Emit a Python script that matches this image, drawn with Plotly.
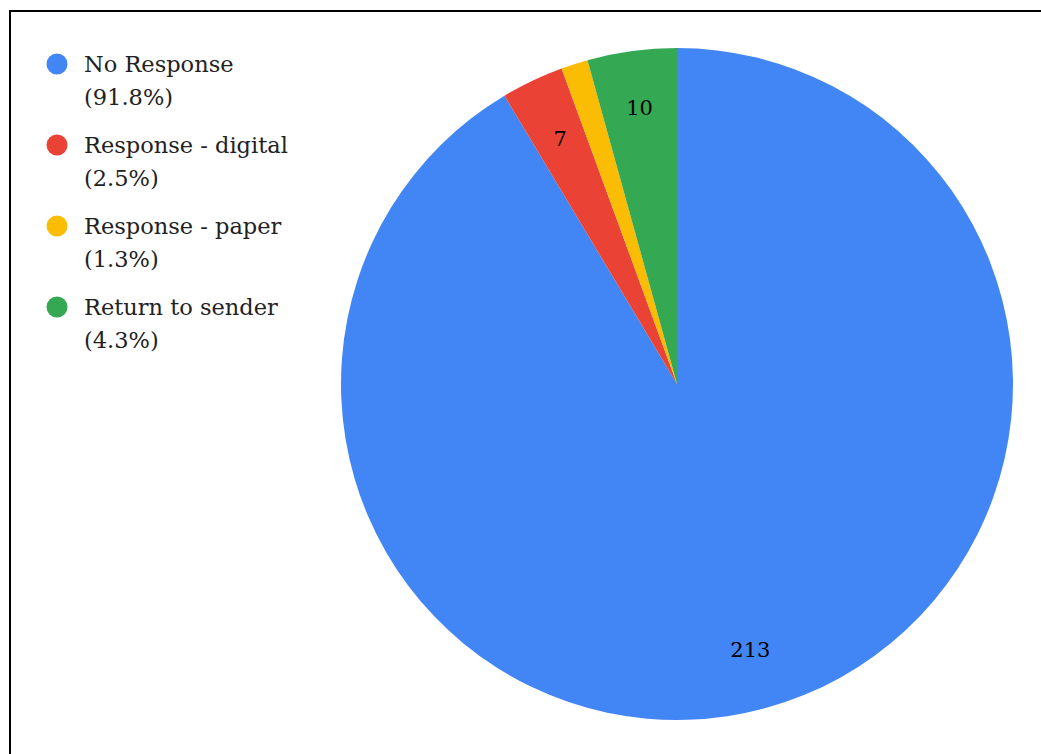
import plotly.graph_objects as go

W, H = 1041, 754

categories = ["No Response", "Response - digital", "Response - paper", "Return to sender"]
values = [213, 7, 3, 10]
slice_labels = ["213", "7", "", "10"]
legend_pct = ["(91.8%)", "(2.5%)", "(1.3%)", "(4.3%)"]
colors = ["#4285F4", "#EA4335", "#FBBC04", "#34A853"]

FONT = "DejaVu Serif"

def px(x):
    return x / W

def py(y):
    return 1 - y / H

cx, cy, r = 677, 384, 336

def dom(rad):
    return dict(x=[px(cx - rad), px(cx + rad)], y=[py(cy + rad), py(cy - rad)])

common = dict(labels=categories, values=values, sort=False, direction="clockwise",
              rotation=0, showlegend=False)

fig = go.Figure()
# full pie (colour fill)
fig.add_trace(go.Pie(
    **common, domain=dom(r),
    textinfo="none",
    marker=dict(colors=colors, line=dict(color="white", width=0)),
    hoverinfo="label+value+percent",
))
# transparent ring overlays that carry the value labels (one per label radius)
clear = ["rgba(0,0,0,0)"] * len(categories)
label_rings = [(r, 0.64, 0), (297, 0.6, 1), (316, 0.6, 3)]
for rad, hole, idx in label_rings:
    txt = [slice_labels[k] if k == idx else "" for k in range(len(categories))]
    fig.add_trace(go.Pie(
        **common, domain=dom(rad),
        hole=hole,
        text=txt,
        textinfo="text",
        textposition="inside",
        insidetextorientation="horizontal",
        marker=dict(colors=clear, line=dict(width=0)),
        textfont=dict(family=FONT, size=21, color="#000000"),
        hoverinfo="skip",
    ))

shapes = [
    dict(type="line", xref="paper", yref="paper", x0=px(10), x1=px(10), y0=py(10), y1=py(H),
         line=dict(color="black", width=2)),
    dict(type="line", xref="paper", yref="paper", x0=px(9), x1=px(W), y0=py(11), y1=py(11),
         line=dict(color="black", width=2)),
]
annotations = []
top0, step, lh = 64, 81, 33
mr = 10.5
for i, (name, pct, col) in enumerate(zip(categories, legend_pct, colors)):
    yc = top0 + i * step
    shapes.append(dict(type="circle", xref="paper", yref="paper",
                       x0=px(57 - mr), x1=px(57 + mr), y0=py(yc + mr), y1=py(yc - mr),
                       fillcolor=col, line=dict(width=0)))
    for j, t in enumerate([name, pct]):
        annotations.append(dict(text=t, xref="paper", yref="paper", x=px(82), y=py(yc + j * lh),
                                xanchor="left", yanchor="middle", showarrow=False,
                                font=dict(family=FONT, size=22.5, color="#222222")))

fig.update_layout(
    width=W, height=H,
    margin=dict(l=0, r=0, t=0, b=0),
    paper_bgcolor="white",
    plot_bgcolor="white",
    shapes=shapes,
    annotations=annotations,
)

fig.write_html(
    "out.html",
    config={"displayModeBar": False},
    post_script=("document.documentElement.style.margin='0';document.body.style.margin='0';"
                 "document.documentElement.style.overflow='hidden';document.body.style.overflow='hidden';"),
)
